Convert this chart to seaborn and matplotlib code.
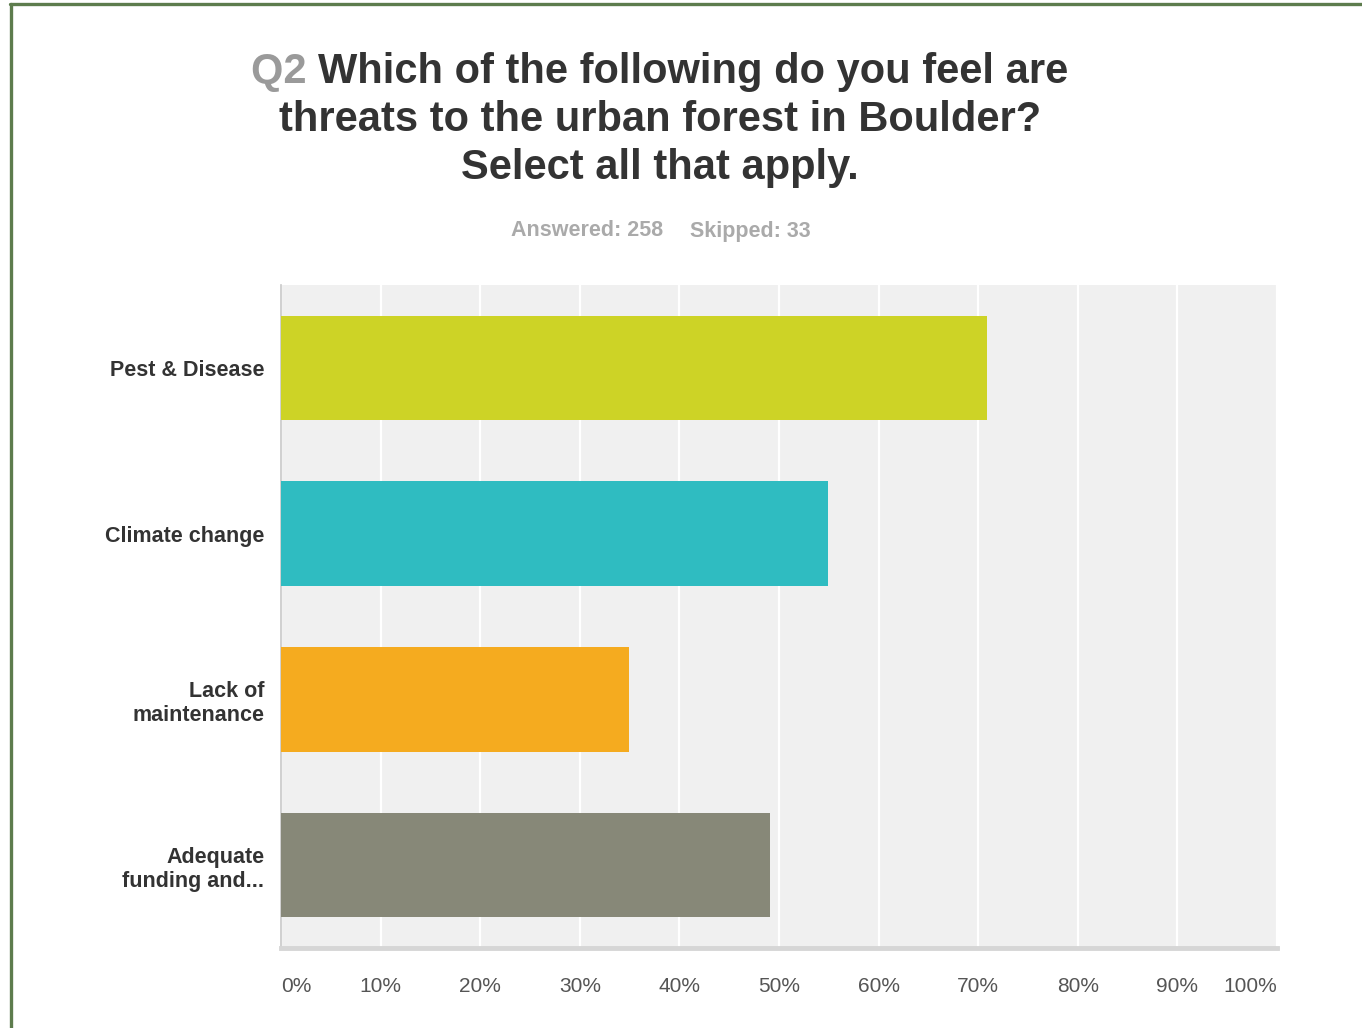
import matplotlib
matplotlib.use("Agg")
import matplotlib.pyplot as plt
import seaborn as sns
import pandas as pd
from matplotlib.lines import Line2D

categories = ["Pest & Disease", "Climate change", "Lack of\nmaintenance", "Adequate\nfunding and..."]
values = [70.9, 54.9, 34.9, 49.1]
colors = ["#cdd326", "#2fbcc1", "#f5ab1f", "#878878"]
tick_vals = [0, 10, 20, 30, 40, 50, 60, 70, 80, 90, 100]
tick_labels = ["0%", "10%", "20%", "30%", "40%", "50%", "60%", "70%", "80%", "90%", "100%"]
title_q = "Q2"
title_line1 = "Which of the following do you feel are"
title_line2 = "threats to the urban forest in Boulder?"
title_line3 = "Select all that apply."
answered = "Answered: 258"
skipped = "Skipped: 33"

sns.set_theme(style="white")
plt.rcParams["font.family"] = ["Liberation Sans", "DejaVu Sans"]

W, H = 1362, 1028
fig = plt.figure(figsize=(W / 100, H / 100), dpi=100)
fig.patch.set_facecolor("white")

ax = fig.add_axes([281 / W, 1 - 948 / H, (1277 - 281) / W, (948 - 285) / H])
df = pd.DataFrame({"cat": categories, "val": values})
sns.barplot(data=df, x="val", y="cat", hue="cat", palette=colors, orient="h",
            width=0.63, legend=False, ax=ax, saturation=1, edgecolor="none", zorder=3)

ax.set_facecolor("#f0f0f0")
ax.set_xlim(0, 100)
ax.set_ylim(3.5, -0.5)
ax.set_xticks(tick_vals)
ax.set_xticklabels(tick_labels)
ax.xaxis.grid(True, color="white", linewidth=1.6, zorder=1)
ax.set_axisbelow(True)
ax.set_xlabel("")
ax.set_ylabel("")
for s in ["top", "right"]:
    ax.spines[s].set_visible(False)
ax.spines["left"].set_color("#c8c8c8")
ax.spines["left"].set_linewidth(1.2)
ax.spines["bottom"].set_color("#d6d6d6")
ax.spines["bottom"].set_linewidth(3.5)
ax.tick_params(axis="x", length=0, pad=21, labelsize=15, labelcolor="#555555")
ax.tick_params(axis="y", length=0, pad=12, labelsize=15.5, labelcolor="#333333")
for lab in ax.get_yticklabels():
    lab.set_fontweight("bold")
    lab.set_linespacing(1.2)
xl = ax.get_xticklabels()
xl[0].set_horizontalalignment("left")
xl[-1].set_horizontalalignment("right")

# Title
cx = 660 / W
fs_title = 30
renderer = fig.canvas.get_renderer()
tq = fig.text(0, 1 - 72 / H, title_q + " ", fontsize=fs_title, fontweight="bold", color="#9a9a9a",
              ha="left", va="center")
t1 = fig.text(0, 1 - 72 / H, title_line1, fontsize=fs_title, fontweight="bold", color="#333333",
              ha="left", va="center")
wq = tq.get_window_extent(renderer).width
w1 = t1.get_window_extent(renderer).width
left_px = 660 - (wq + w1) / 2
tq.set_x(left_px / W)
t1.set_x((left_px + wq) / W)
fig.text(cx, 1 - 120 / H, title_line2, fontsize=fs_title, fontweight="bold", color="#333333",
         ha="center", va="center")
fig.text(cx, 1 - 168 / H, title_line3, fontsize=fs_title, fontweight="bold", color="#333333",
         ha="center", va="center")
fig.text(663 / W, 1 - 231 / H, answered, fontsize=15.5, fontweight="bold", color="#aaaaaa",
         ha="right", va="center")
fig.text(690 / W, 1 - 231 / H, skipped, fontsize=15.5, fontweight="bold", color="#aaaaaa",
         ha="left", va="center")

# Green frame (left and top)
fig.add_artist(Line2D([10.5 / W, 10.5 / W], [0, 1 - 3.5 / H], color="#5d7c4d", linewidth=2.4,
                      transform=fig.transFigure))
fig.add_artist(Line2D([9.5 / W, 1], [1 - 3.5 / H, 1 - 3.5 / H], color="#5d7c4d", linewidth=2.4,
                      transform=fig.transFigure))

fig.savefig("out.png", dpi=100, facecolor="white")
